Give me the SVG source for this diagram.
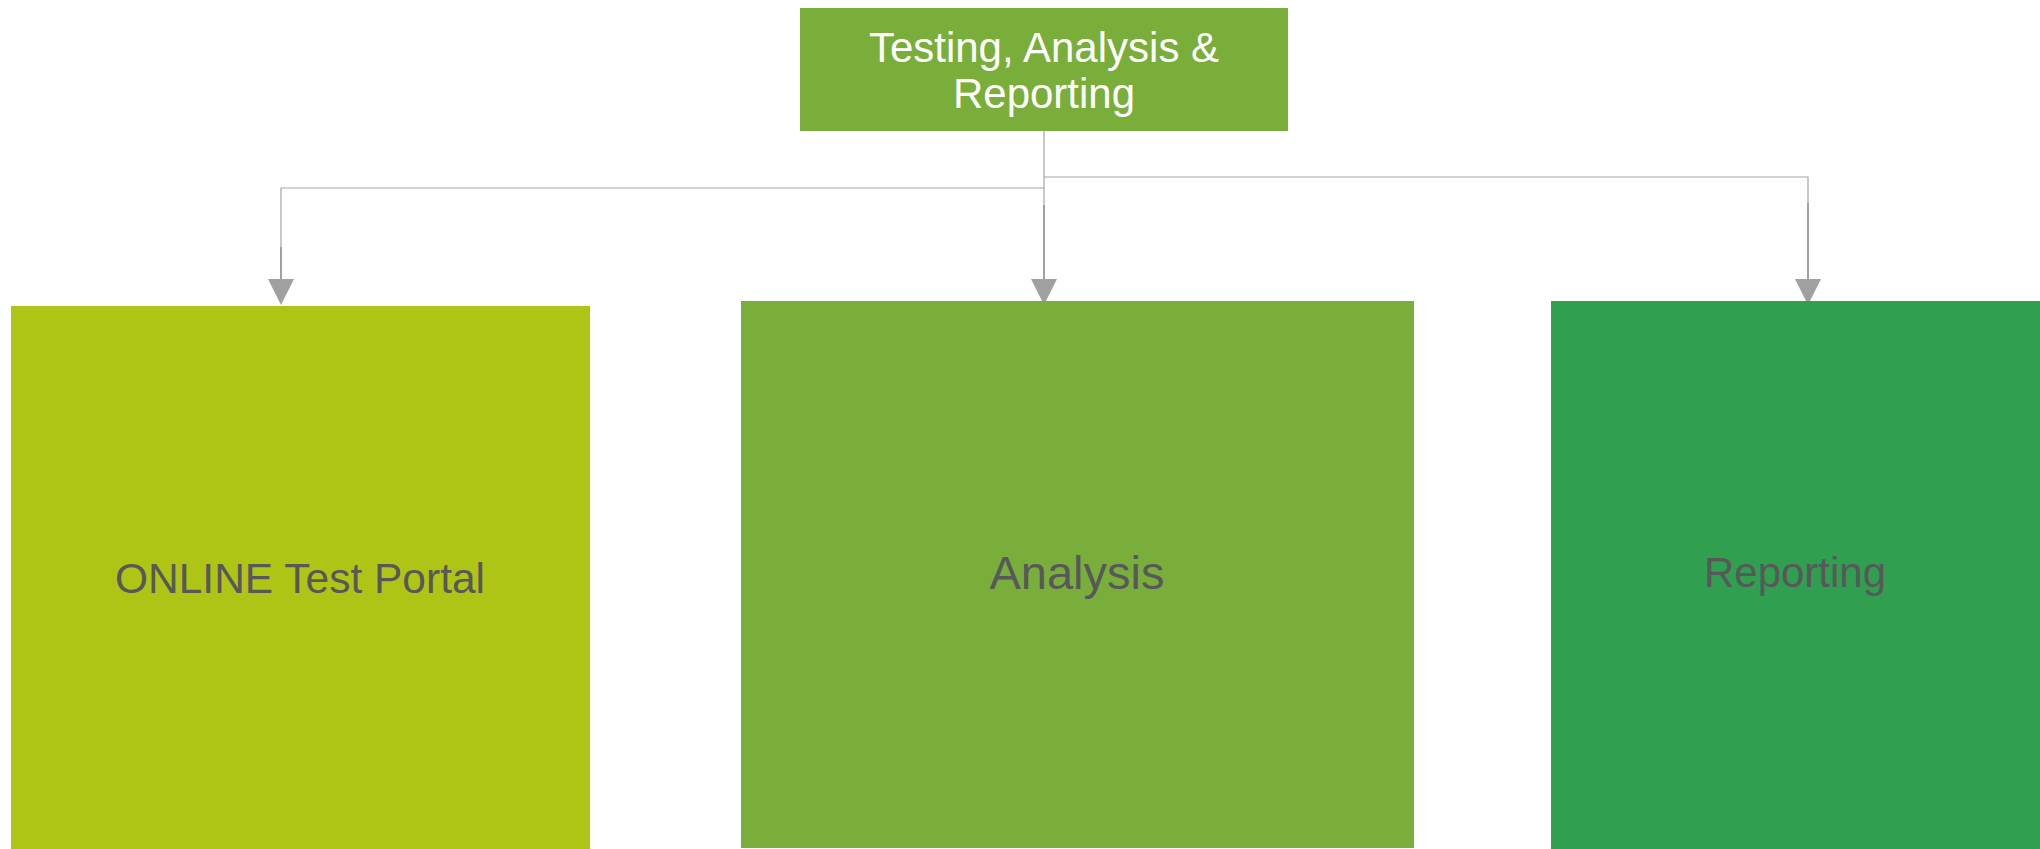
<svg xmlns="http://www.w3.org/2000/svg" width="2040" height="849" viewBox="0 0 2040 849">
<style>
.lbl{font-family:"Liberation Sans",Arial,sans-serif;text-anchor:middle;fill:#58585A}
.wl{font-family:"Liberation Sans",Arial,sans-serif;text-anchor:middle;fill:#FFFFFF;font-size:42px}
.ln{fill:none;stroke:#A6A6A6;stroke-width:1.2}
.th{fill:none;stroke:#A0A0A0;stroke-width:2}
.ah{fill:#A0A0A0}
</style>
<rect width="2040" height="849" fill="#FFFFFF"/>
<g id="connectors">
<path class="ln" d="M1044 131 V188 H281 V280"/>
<path class="ln" d="M1044 177 H1808 V280"/>
<path class="ln" d="M1044 188 V280"/>
<path class="th" d="M281 247 V280"/>
<path class="th" d="M1044 205 V280"/>
<path class="th" d="M1808 203 V280"/>
<polygon class="ah" points="268,279 294,279 281,305"/>
<polygon class="ah" points="1031,279 1057,279 1044,305"/>
<polygon class="ah" points="1795,279 1821,279 1808,305"/>
</g>
<g id="node-top">
<rect x="800" y="8" width="488" height="123" fill="#7AAE3B"/>
<text class="wl" x="1044" y="62">Testing, Analysis &amp;</text>
<text class="wl" x="1044" y="108">Reporting</text>
</g>
<g id="node-portal">
<rect x="11" y="306" width="579" height="543" fill="#AFC515"/>
<text class="lbl" x="300" y="593" font-size="42.5">ONLINE Test Portal</text>
</g>
<g id="node-analysis">
<rect x="741" y="301" width="673" height="547" fill="#7AAE3B"/>
<text class="lbl" x="1077" y="589" font-size="47">Analysis</text>
</g>
<g id="node-reporting">
<rect x="1551" y="301" width="489" height="548" fill="#319F50"/>
<text class="lbl" x="1795" y="587" font-size="42">Reporting</text>
</g>
</svg>
